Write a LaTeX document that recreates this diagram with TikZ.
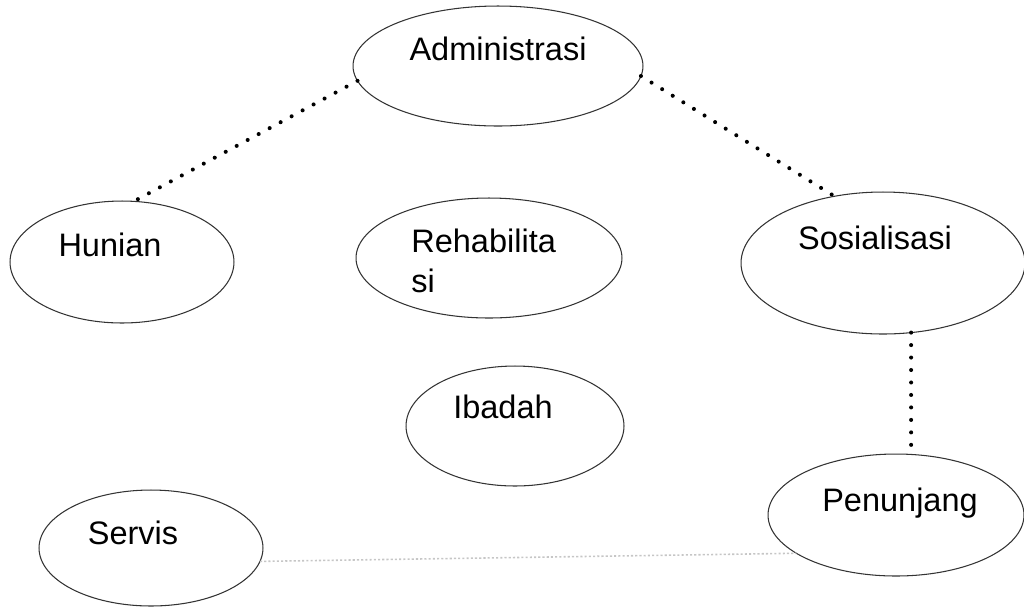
\documentclass[tikz,border=0pt]{standalone}
\usepackage{fontspec}
\setmainfont{Liberation Sans}
\usetikzlibrary{shapes.geometric}

\tikzset{
    zone/.style={ellipse, draw=black!80, line width=0.6pt, inner sep=0pt, outer sep=0pt},
    zonetext/.style={font=\fontsize{18.5}{23}\selectfont, inner sep=0pt},
    dotline/.style={line width=2.3pt, line cap=round, dash pattern=on 0pt off 7.1pt},
    faintline/.style={gray!45, line width=0.9pt, dash pattern=on 1.2pt off 1.2pt}
}

\begin{document}
\begin{tikzpicture}[x=0.02cm, y=-0.02cm]
        \useasboundingbox (0,0) rectangle (1024,610);
        % Draw the zones
        \node[zone, minimum width=5.80cm, minimum height=2.40cm] (adm) at (498,66) {};
        \node[zone, minimum width=4.48cm, minimum height=2.44cm] (hun) at (122,262) {};
        \node[zone, minimum width=5.32cm, minimum height=2.40cm] (reh) at (489,258) {};
        \node[zone, minimum width=5.68cm, minimum height=2.84cm] (sos) at (883,263) {};
        \node[zone, minimum width=4.36cm, minimum height=2.40cm] (iba) at (515,426) {};
        \node[zone, minimum width=4.48cm, minimum height=2.32cm] (srv) at (151,548) {};
        \node[zone, minimum width=5.12cm, minimum height=2.44cm] (pen) at (896,515) {};
        % Labels of the zones
        \node[zonetext] (admtxt) at (498,49) {Administrasi};
        \node[zonetext] (huntxt) at (110,245) {Hunian};
        \node[zonetext, align=left, anchor=west] (rehtxt) at (411,261) {Rehabilita\\si};
        \node[zonetext] (sostxt) at (875,238) {Sosialisasi};
        \node[zonetext] (ibatxt) at (503,407) {Ibadah};
        \node[zonetext] (srvtxt) at (133,533) {Servis};
        \node[zonetext] (pentxt) at (900,503) {Penunjang};
        % Dotted links
        \draw[dotline] (adm.186) -- (hun.79);
        \draw[dotline] (adm.-4) -- (sos.126);
        \draw[dotline] (sos.292) -- (sos.292 |- pen.north);
        \draw[faintline] (srv.-7) -- (pen.201);
\end{tikzpicture}
\end{document}
